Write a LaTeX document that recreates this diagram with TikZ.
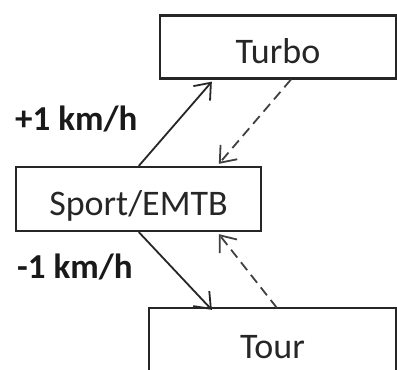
\documentclass[tikz,border=0pt]{standalone}
\usepackage{fontspec}
\setmainfont{Carlito}
\usetikzlibrary{arrows.meta,calc}
\begin{document}
\begin{tikzpicture}[x=1pt,y=1pt,
  modebox/.style={draw=black!85,line width=2.3pt,rectangle,inner sep=0pt,
    text=black!85,font=\fontsize{36}{40}\selectfont,text height=32pt,text depth=0pt},
  conn/.style={draw=black!85,line width=1.8pt,
    -{Straight Barb[length=14pt,width=22pt,line width=1.8pt]}},
  back/.style={conn,draw=black!75,dash pattern=on 10pt off 6pt},
  speed/.style={anchor=base west,inner sep=0pt,text=black!90,
    font=\fontsize{35}{40}\selectfont\bfseries}]
\useasboundingbox (0,0) rectangle (397,-370);
\node[modebox,minimum width=236pt,minimum height=63pt] (turbo) at (278,-47) {Turbo};
\node[modebox,minimum width=245pt,minimum height=64pt] (sport) at (138.5,-199) {Sport/EMTB};
\node[modebox,draw=none,minimum width=245pt,minimum height=66pt] (tour) at (272.5,-342) {Tour};
\draw[draw=black!85,line width=2.3pt] (tour.south west) -- (tour.north west) -- (tour.north east) -- (tour.south east);
\draw[conn] ($(sport.north west)+(124,0)$) -- ($(turbo.south west)+(53,-2)$);
\draw[back] ($(turbo.south west)+(132,0)$) -- ($(sport.north west)+(204,2)$);
\draw[conn] ($(sport.south west)+(124,0)$) -- ($(tour.north west)+(63,-2)$);
\draw[back] ($(tour.north west)+(128,0)$) -- ($(sport.south west)+(204,-2)$);
\node[speed] (plus) at (15,-130) {+1 km/h};
\node[speed] (minus) at (17,-278) {-1 km/h};
\end{tikzpicture}
\end{document}
